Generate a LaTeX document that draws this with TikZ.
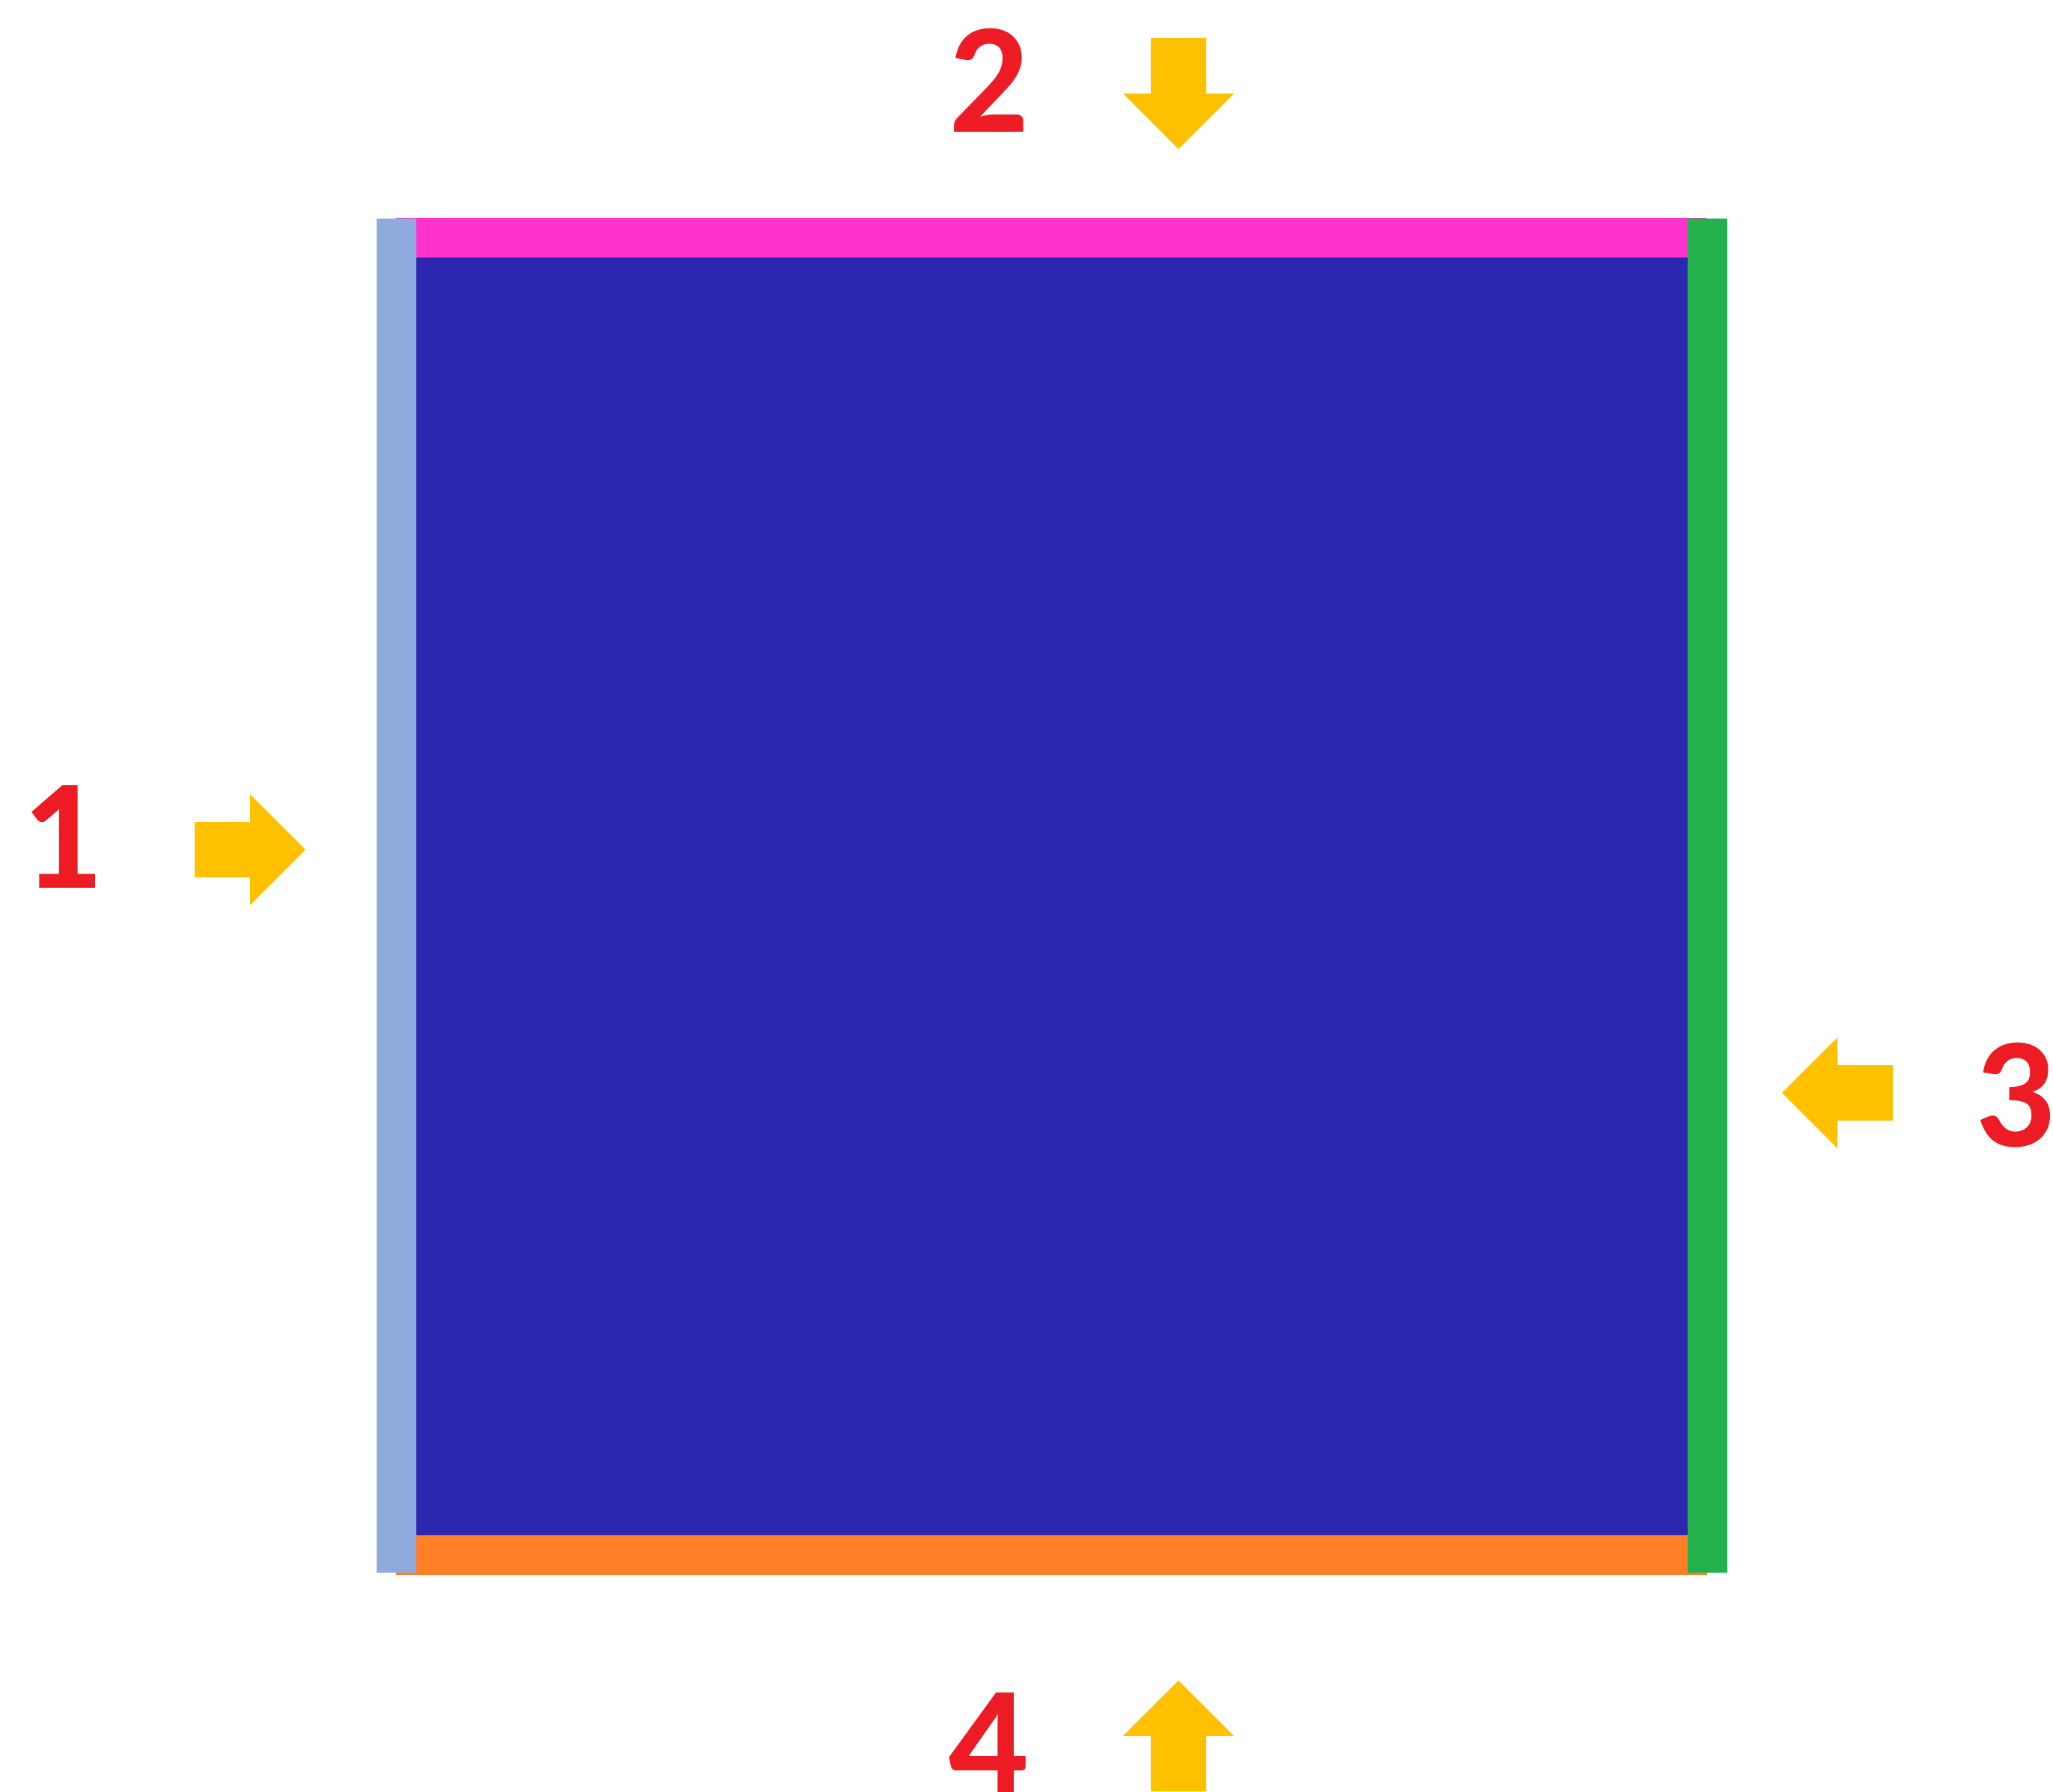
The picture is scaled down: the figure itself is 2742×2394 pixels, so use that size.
\documentclass[tikz,border=0pt]{standalone}
\usepackage{fontspec}
\setmainfont{Carlito}
\usepackage{xcolor}
\usepackage{tikz}
\usetikzlibrary{positioning}

\definecolor{fieldblue}{RGB}{45,38,176}
\definecolor{edgeleft}{RGB}{143,170,220}
\definecolor{edgetop}{RGB}{255,51,204}
\definecolor{edgeright}{RGB}{35,177,77}
\definecolor{edgebottom}{RGB}{255,127,39}
\definecolor{flowyellow}{RGB}{255,192,0}
\definecolor{numred}{RGB}{237,28,36}

\begin{document}
\begin{tikzpicture}[
  x=0.01cm, y=-0.01cm,
  num/.style={font=\fontsize{60}{60}\selectfont\bfseries, text=numred, inner sep=0pt, anchor=base},
  inflow/.pic={\fill[flowyellow] (0,0) -- (-74,-74) -- (-74,-37) -- (-148,-37)
                 -- (-148,37) -- (-74,37) -- (-74,74) -- cycle;}
]
\useasboundingbox (0,0) rectangle (2742,2394);

% boundary strips, then the domain
\fill[edgetop]    (529,291)  rectangle (2280,344);
\fill[edgebottom] (529,2051) rectangle (2280,2104);
\fill[fieldblue]  (556,344)  rectangle (2254,2051);
\fill[edgeleft]   (503,292)  rectangle (556,2101);
\fill[edgeright]  (2254,292) rectangle (2307,2101);

% inflow arrows
\pic at (408,1135)            {inflow};
\pic[rotate=-90] at (1574,199) {inflow};
\pic[rotate=180] at (2380,1460) {inflow};
\pic[rotate=90]  at (1574,2245) {inflow};

% boundary numbers
\node[num] (n1) at (82,1186)   {1};
\node[num] (n2) at (1321,176)  {2};
\node[num] (n3) at (2691,1531) {3};
\node[num] (n4) at (1320,2398) {4};
\end{tikzpicture}
\end{document}
